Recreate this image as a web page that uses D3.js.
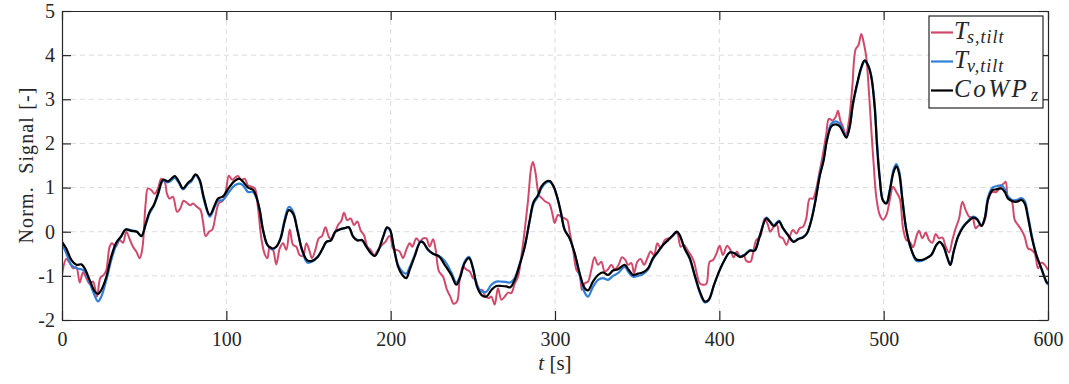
<!DOCTYPE html>
<html>
<head>
<meta charset="utf-8">
<script src="https://cdn.jsdelivr.net/npm/d3@7/dist/d3.min.js"></script>
<style>
  html, body { margin: 0; padding: 0; background: #fff; }
  svg { display: block; }
  text { font-family: "Liberation Serif", "DejaVu Serif", serif; fill: #262626; }
</style>
</head>
<body>
<svg id="chart" width="1069" height="384"></svg>
<script>
// ---------- data ----------
const timeSmooth = [0,2.6,5.7,8.7,11.8,13.8,16.8,19.9,21.9,23.9,27,30,33,36.1,38.7,42.2,45.6,48.3,50.9,53.3,55.8,58.4,61.5,64.5,66.5,68.6,71.2,73.6,76.7,78.7,81.3,83.8,86.2,89.9,92.9,94.9,98,101.6,105.1,108.1,110.2,113.2,116.2,118.3,120.3,122.3,125,127.8,130.4,133.1,135.5,138,140.6,143.2,146.1,149.3,152.1,155.4,158.2,160.9,163.5,166.3,169,172,174.5,177.1,179.7,182.6,185.2,188.3,190.3,192.7,195.3,197.8,199.6,201.8,204.5,207.1,209.5,211.6,214.6,218.1,219.7,222.7,225.8,229.4,232.9,236.9,240,242.4,245,247.7,250.1,252.5,255.2,258.2,261.3,264.3,267.4,270.4,272.8,275.5,278.5,281.6,284.6,287,289.7,291.7,294.3,296.8,299.2,301.8,303.5,305.9,308.9,312,315,318.1,320.1,323.1,326.2,329.2,332.3,335.3,338.3,342.4,344.8,347.5,350.5,353.6,356.6,359.6,362.7,365.7,368.8,371.8,374.2,375.9,378.9,382,385,388.1,391.1,393.5,396.8,400.2,403.2,406.3,409.3,412.4,415.4,418.5,421.5,424.5,428.6,430.6,433.1,436.3,438.7,441.8,445.2,447.9,450.9,453.3,456,458.6,461,463.5,465.5,468.2,470.8,473.2,475.7,477.3,479.3,481.3,483.8,486.4,488.4,490.5,492.5,494.5,496,497.6,499.6,501.7,503.7,506.1,507.7,509.4,511.4,513.8,516.9,519.9,523,526,529,532.1,534.1,536.5,538.6,540.6,542.6,545.3,548.3,551.4,554.4,556.8,559.5,561.5,563.5,566.2,568.6,571.6,573.7,575.7,578.3,581.2,583.8,585.8,587.9,590.5,592.9,596,599,600];

const cowpZ = [-0.23,-0.38,-0.64,-0.75,-0.74,-0.83,-1.09,-1.35,-1.41,-1.32,-1.02,-0.56,-0.25,-0.1,0.05,0.02,0,-0.1,0.17,0.45,0.6,0.86,1.18,1.14,1.2,1.26,1.13,0.98,1.11,1.17,1.3,1.17,0.79,0.38,0.6,0.75,0.8,1.0,1.15,1.2,1.13,1.0,0.95,0.79,0.49,0.04,-0.3,-0.38,-0.34,-0.15,0.23,0.49,0.41,0.04,-0.41,-0.65,-0.66,-0.58,-0.41,-0.23,-0.2,0,0.05,0.08,0.1,-0.11,-0.2,-0.19,-0.34,-0.5,-0.55,-0.41,-0.13,0.1,0.05,-0.34,-0.79,-0.98,-1.05,-0.86,-0.56,-0.23,-0.24,-0.4,-0.5,-0.56,-0.75,-0.98,-1.2,-1.02,-0.71,-0.6,-0.83,-1.24,-1.43,-1.47,-1.32,-1.23,-1.23,-1.24,-1.26,-1.09,-0.75,-0.34,0.26,0.68,0.83,1.02,1.13,1.15,1.02,0.72,0.45,0.04,-0.15,-0.49,-0.94,-1.28,-1.33,-1.13,-0.98,-0.92,-0.98,-0.88,-0.85,-0.75,-0.86,-0.98,-0.95,-0.92,-0.83,-0.6,-0.45,-0.3,-0.19,-0.08,0,-0.08,-0.38,-0.6,-0.98,-1.35,-1.58,-1.54,-1.2,-0.87,-0.64,-0.47,-0.49,-0.57,-0.53,-0.43,-0.43,-0.11,0.3,0.23,0.13,0.23,0.08,-0.08,-0.23,-0.17,-0.13,-0.04,0.26,0.72,1.24,1.62,2.07,2.39,2.43,2.39,2.22,2.13,2.37,2.9,3.35,3.73,3.88,3.77,3.5,2.83,1.92,1.2,0.7,0.64,0.92,1.36,1.48,1.32,0.72,0.04,-0.41,-0.63,-0.64,-0.6,-0.53,-0.3,-0.23,-0.34,-0.57,-0.75,-0.45,-0.11,0.1,0.23,0.32,0.28,0.13,0.3,0.72,0.94,0.96,0.98,0.9,0.75,0.69,0.68,0.72,0.64,0.3,-0.19,-0.53,-0.83,-1.13,-1.17];

const tvTilt = [-0.25,-0.49,-0.75,-0.83,-0.85,-0.9,-1.15,-1.45,-1.58,-1.47,-1.09,-0.64,-0.3,-0.1,0.05,0.03,0,-0.1,0.15,0.42,0.58,0.84,1.15,1.12,1.16,1.22,1.1,0.96,1.08,1.14,1.28,1.14,0.75,0.34,0.56,0.7,0.72,0.9,1.05,1.09,1.05,0.9,0.9,0.76,0.5,0.06,-0.3,-0.4,-0.34,-0.12,0.28,0.56,0.46,0.06,-0.43,-0.7,-0.68,-0.58,-0.41,-0.23,-0.2,0,0.05,0.08,0.1,-0.1,-0.18,-0.2,-0.34,-0.5,-0.55,-0.41,-0.13,0.08,0.03,-0.34,-0.75,-0.9,-0.95,-0.8,-0.53,-0.22,-0.24,-0.42,-0.5,-0.55,-0.66,-0.92,-1.15,-1.0,-0.68,-0.57,-0.83,-1.2,-1.35,-1.36,-1.2,-1.13,-1.13,-1.14,-1.15,-1.05,-0.73,-0.32,0.24,0.64,0.8,0.98,1.1,1.13,1.02,0.72,0.45,0.04,-0.15,-0.5,-0.98,-1.38,-1.47,-1.25,-1.09,-1.05,-1.09,-1.0,-0.94,-0.8,-0.92,-1.02,-1.0,-0.96,-0.86,-0.62,-0.46,-0.3,-0.19,-0.08,0,-0.08,-0.38,-0.62,-1.0,-1.38,-1.6,-1.56,-1.2,-0.87,-0.64,-0.47,-0.49,-0.56,-0.52,-0.42,-0.42,-0.1,0.32,0.25,0.15,0.25,0.09,-0.07,-0.22,-0.16,-0.12,-0.03,0.28,0.75,1.28,1.66,2.1,2.45,2.5,2.45,2.26,2.15,2.37,2.88,3.32,3.7,3.86,3.77,3.52,2.9,2.0,1.25,0.72,0.66,0.95,1.42,1.53,1.38,0.75,0.04,-0.42,-0.66,-0.66,-0.6,-0.52,-0.3,-0.23,-0.34,-0.57,-0.76,-0.45,-0.1,0.12,0.25,0.34,0.3,0.14,0.32,0.78,1.0,1.03,1.05,0.96,0.8,0.72,0.72,0.76,0.7,0.36,-0.15,-0.52,-0.85,-1.15,-1.2];

const timeTs = [0,2.6,4.7,6.7,8.7,10.8,12.8,14.8,16.8,18.9,21.3,23.3,25.4,27,29,30.4,32.7,35.1,37.1,39.1,41.2,43.2,45.2,47.3,48.9,50.9,52.3,54.4,56.4,58.4,60.4,62.5,63.9,65.5,67.5,70,72,74,76.1,78.1,79.7,82.2,84.2,85.8,87.4,89.5,91.5,93.5,95.5,98,100,101.5,103.5,105.5,107.1,109.1,111.2,113.2,115.2,117.3,119.3,121.3,123.3,125,126.4,128.4,130.4,132.5,134.5,136.5,138.6,140.6,142.6,144.6,146.7,148.7,150.7,152.1,154.2,156.2,158.2,160.3,162.3,163.9,165.9,168,170,171.6,173.6,175.7,177.7,179.7,181.8,183.8,185.8,187.8,189.9,192.3,194.7,196.8,198.8,199.8,201.4,203.5,205.5,207.5,209.5,211.6,213.2,215.6,217.7,219.7,221.7,223.7,225.8,227.4,229.4,231.9,234.3,236.3,238.3,240.4,242,244,246.1,248.1,250.1,251.7,253.8,255.8,257.8,259.8,261.3,263.3,265.3,267.4,269.4,271.4,273.4,275.5,277.5,279.5,281.6,283.6,285.6,286.6,288.2,290.3,292.3,294.3,296.4,298.4,299.8,301.8,303.9,305.9,307.5,308.9,311,313,315,316.4,318.1,320.1,322.1,324.1,326.2,328.2,330.2,332.3,334.3,336.3,338.7,340.8,342.8,344.4,346.5,348.1,350.1,352.1,354.2,356.2,358.2,360.2,362.3,364.3,366.7,368.8,370.8,372.8,374.4,376.5,378.5,380.5,382.6,384.6,386,388.1,390.1,392.1,394.1,396.2,398.2,400.2,402.2,404.7,406.7,408.7,410.7,412.8,414.8,416.4,418.9,420.5,422.5,424.9,427.6,429.6,431,433.1,435.1,436.7,438.7,440.8,442.8,444.8,446.9,448.9,450.9,452.9,455,457,459,461,463.1,465.1,466.7,468.8,470.8,472.2,473.6,475.3,476.9,478.9,480.9,483,484.6,486.4,487.8,489.4,491.1,492.5,493.9,495.5,497.6,499.6,501.7,503.7,505.7,507.7,509.8,511.8,513.8,515.9,517.9,519.9,521.5,523.6,525.6,527.6,529.6,531.7,533.7,535.7,537.8,539.8,541.8,543.8,545.9,547.9,549.9,552,554,556,558.1,560.1,562.1,564.1,566.2,568.6,571,573,574.3,575.7,577.7,579.8,581.8,583.8,585.8,587.9,589.9,591.9,594,596,598,600];

const tsTilt = [-0.98,-0.62,-0.71,-0.83,-0.8,-1.15,-0.92,-1.05,-1.18,-1.13,-1.47,-1.05,-0.98,-0.86,-0.34,-0.26,-0.34,-0.19,-0.25,0,-0.17,-0.34,-0.45,-0.6,-0.38,0.64,0.98,0.94,0.86,0.98,1.2,1.13,0.86,0.75,0.79,0.45,0.53,0.7,0.65,0.6,0.64,0.56,0.5,0.23,-0.1,0,0.05,0.38,0.65,0.71,0.98,1.27,1.18,1.23,1.26,1.17,1.2,1.05,1.02,0.98,0.53,-0.15,-0.5,-0.6,-0.35,-0.41,-0.74,-0.38,-0.26,-0.41,0.05,-0.3,-0.34,-0.53,-0.55,-0.26,-0.45,-0.6,-0.41,-0.15,-0.1,0.1,-0.11,-0.19,-0.04,0.15,0.25,0.43,0.26,0.3,0.15,0.23,0.02,-0.08,-0.34,-0.41,-0.53,-0.41,-0.3,-0.23,-0.11,-0.1,-0.38,-0.41,-0.45,-0.6,-0.41,-0.26,-0.34,-0.15,-0.23,-0.15,-0.15,-0.34,-0.17,-0.41,-0.9,-1.02,-1.32,-1.47,-1.63,-1.58,-1.09,-0.79,-0.86,-0.9,-1.05,-1.09,-1.32,-1.32,-1.47,-1.5,-1.47,-1.65,-1.28,-1.54,-1.47,-1.38,-1.39,-1.17,-1.02,-0.56,0.04,0.71,1.47,1.58,1.32,0.83,0.75,0.68,0.64,0.41,0.2,0.38,0.34,0.3,0.26,0,-0.41,-0.86,-0.98,-1.32,-1.17,-1.13,-0.86,-0.58,-0.75,-0.68,-0.9,-0.85,-0.75,-0.85,-0.75,-0.58,-0.64,-0.75,-0.71,-0.94,-0.68,-0.62,-0.75,-0.6,-0.45,-0.53,-0.26,-0.38,-0.19,-0.15,-0.13,-0.04,-0.04,-0.34,-0.3,-0.41,-0.53,-0.68,-0.9,-1.17,-1.2,-1.18,-0.68,-0.64,-0.5,-0.32,-0.53,-0.32,-0.41,-0.58,-0.45,-0.58,-0.53,-0.66,-0.68,-0.49,-0.19,-0.11,0.3,0.15,0,0.11,0.15,-0.11,-0.15,-0.3,-0.11,0.04,-0.04,0.08,0.11,0.3,0.75,0.75,0.98,1.36,1.77,2.22,2.56,2.52,2.6,2.74,2.52,2.37,2.19,2.52,3.28,4.14,4.22,4.48,4.29,3.96,3.13,2.3,1.54,0.79,0.38,0.27,0.38,0.72,1.02,0.9,0.75,0.08,-0.19,-0.23,-0.35,-0.11,0.02,-0.15,-0.02,-0.19,-0.25,-0.05,-0.15,-0.13,-0.34,-0.47,-0.19,0.08,0.3,0.68,0.49,0.34,0.32,0.08,0.15,0.15,0.34,0.83,0.9,0.9,1.02,1.09,1.13,0.75,0.72,0.26,0.15,0.04,-0.11,-0.38,-0.41,-0.49,-0.83,-0.7,-0.75,-0.87];

const xTicks = [0, 100, 200, 300, 400, 500, 600];
const yTicks = [-2, -1, 0, 1, 2, 3, 4, 5];
const seriesNames = ["T_s,tilt", "T_v,tilt", "CoWP_z"];
const seriesColors = ["#d1496b", "#2f7fd9", "#000000"];

// ---------- layout ----------
const svg = d3.select("#chart");
const M = { left: 62, right: 1048, top: 11, bottom: 320 };
const x = d3.scaleLinear().domain([0, 600]).range([M.left, M.right]);
const y = d3.scaleLinear().domain([-2, 5]).range([M.bottom, M.top]);
const axisColor = "#262626";
const tickLen = 9;

// grid
const grid = svg.append("g");
grid.selectAll("line.gx").data(xTicks.slice(1, -1)).join("line")
  .attr("x1", d => x(d)).attr("x2", d => x(d))
  .attr("y1", M.top).attr("y2", M.bottom)
  .attr("stroke", "#dcdcdc").attr("stroke-width", 1).attr("stroke-dasharray", "5,4");
grid.selectAll("line.gy").data(yTicks.slice(1, -1)).join("line")
  .attr("y1", d => y(d)).attr("y2", d => y(d))
  .attr("x1", M.left).attr("x2", M.right)
  .attr("stroke", "#dcdcdc").attr("stroke-width", 1).attr("stroke-dasharray", "5,4");

// lines
svg.append("clipPath").attr("id", "clip").append("rect")
  .attr("x", M.left).attr("y", M.top).attr("width", M.right - M.left).attr("height", M.bottom - M.top);

const lineGen = d3.line().x(d => x(d[0])).y(d => y(d[1])).curve(d3.curveCatmullRom.alpha(0.5));
const redData = timeTs.map((t, i) => [t, tsTilt[i]]);
const blueData = timeSmooth.map((t, i) => [t, tvTilt[i]]);
const blackData = timeSmooth.map((t, i) => [t, cowpZ[i]]);

const plot = svg.append("g").attr("clip-path", "url(#clip)");
plot.append("path").datum(redData).attr("d", lineGen).attr("fill", "none")
  .attr("stroke", seriesColors[0]).attr("stroke-width", 2).attr("stroke-linejoin", "round");
plot.append("path").datum(blueData).attr("d", lineGen).attr("fill", "none")
  .attr("stroke", seriesColors[1]).attr("stroke-width", 2.2).attr("stroke-linejoin", "round");
plot.append("path").datum(blackData).attr("d", lineGen).attr("fill", "none")
  .attr("stroke", seriesColors[2]).attr("stroke-width", 2.2).attr("stroke-linejoin", "round");

// axes via d3 axis generators
const xAxisB = d3.axisBottom(x).tickValues(xTicks).tickSizeInner(-tickLen).tickSizeOuter(0).tickFormat(d => String(d));
const xAxisT = d3.axisTop(x).tickValues(xTicks).tickSizeInner(-tickLen).tickSizeOuter(0).tickFormat("");
const yAxisL = d3.axisLeft(y).tickValues(yTicks).tickSizeInner(-tickLen).tickSizeOuter(0).tickFormat(d => String(d));
const yAxisR = d3.axisRight(y).tickValues(yTicks).tickSizeInner(-tickLen).tickSizeOuter(0).tickFormat("");

function style(g) {
  g.attr("font-family", "Liberation Serif, serif").attr("font-size", 20);
  g.select(".domain").attr("stroke", axisColor).attr("stroke-width", 1.2);
  g.selectAll(".tick line").attr("stroke", axisColor).attr("stroke-width", 1.2);
  g.selectAll(".tick text").attr("fill", axisColor);
}
svg.append("g").attr("transform", `translate(0,${M.bottom})`).call(xAxisB).call(style)
  .selectAll(".tick text").attr("dy", "0.71em").attr("y", 12);
svg.append("g").attr("transform", `translate(0,${M.top})`).call(xAxisT).call(style);
svg.append("g").attr("transform", `translate(${M.left},0)`).call(yAxisL).call(style)
  .selectAll(".tick text").attr("x", -7);
svg.append("g").attr("transform", `translate(${M.right},0)`).call(yAxisR).call(style);

// axis labels
const xl = svg.append("text").attr("x", (M.left + M.right) / 2).attr("y", 370)
  .attr("text-anchor", "middle").style("font-size", "21px");
xl.append("tspan").style("font-style", "italic").text("t");
xl.append("tspan").style("white-space", "pre").text(" [s]");

svg.append("text")
  .attr("transform", `translate(33,${(M.top + M.bottom) / 2}) rotate(-90)`)
  .attr("text-anchor", "middle").style("font-size", "20px").style("white-space", "pre")
  .attr("textLength", 156).attr("lengthAdjust", "spacing")
  .text("Norm.  Signal [-]");

// legend
const lg = svg.append("g");
lg.append("rect").attr("x", 929).attr("y", 16).attr("width", 114).attr("height", 92)
  .attr("fill", "#fff").attr("stroke", axisColor).attr("stroke-width", 1.2);
const rows = [
  { main: "T", sub: "s,tilt", ly: 32.5, base: 38.5, subBase: 43, sx: 967 },
  { main: "T", sub: "v,tilt", ly: 61.5, base: 67.5, subBase: 72, sx: 967 },
  { main: "CoWP", sub: "z", ly: 90.5, base: 97, subBase: 101, sx: 1031 }
];
rows.forEach((r, i) => {
  lg.append("line").attr("x1", 931).attr("x2", 953).attr("y1", r.ly).attr("y2", r.ly)
    .attr("stroke", seriesColors[i]).attr("stroke-width", 2.2);
  const t = lg.append("text").attr("x", 954).attr("y", r.base)
    .style("font-style", "italic").style("font-size", "25px").attr("fill", "#111");
  if (r.main === "CoWP") t.style("letter-spacing", "2.5px");
  t.text(r.main);
  const st = lg.append("text").attr("x", r.sx).attr("y", r.subBase)
    .style("font-style", "italic").style("font-size", "18px").attr("fill", "#111");
  if (r.sub.length > 1) st.style("letter-spacing", "1px");
  st.text(r.sub);
});
</script>
</body>
</html>
